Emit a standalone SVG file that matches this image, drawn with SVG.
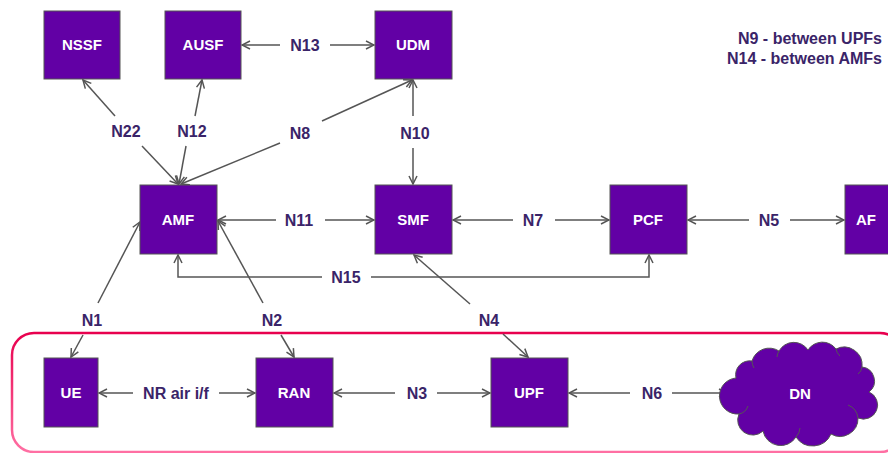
<svg xmlns="http://www.w3.org/2000/svg" width="888" height="453" viewBox="0 0 888 453">
  <defs>
    <marker id="arrow" viewBox="0 0 10 10" refX="9" refY="5" markerWidth="10" markerHeight="10" markerUnits="userSpaceOnUse" orient="auto">
      <path d="M1,1 L9,5 L1,9" fill="none" stroke="#555555" stroke-width="1.5"/>
    </marker>
    <linearGradient id="zoneStroke" x1="0" y1="0" x2="0" y2="1">
      <stop offset="0" stop-color="#e8004e"/>
      <stop offset="1" stop-color="#ff6fa3"/>
    </linearGradient>
  </defs>
  <style>
    .box { fill: #6200a5; stroke: #555555; stroke-width: 1; }
    .name { font-family: "Liberation Sans", Arial, sans-serif; font-weight: bold; font-size: 15px; fill: #ffffff; text-anchor: middle; }
    .lbl { font-family: "Liberation Sans", Arial, sans-serif; font-weight: bold; font-size: 16px; fill: #3a2468; text-anchor: middle; }
    .legend { font-family: "Liberation Sans", Arial, sans-serif; font-weight: bold; font-size: 16px; fill: #3a2468; text-anchor: end; }
    .ln { fill: none; stroke: #555555; stroke-width: 1.5; }
    .arr { marker-end: url(#arrow); }
  </style>

  <rect width="888" height="453" fill="#ffffff"/>

  <!-- access / user-plane zone -->
  <rect id="zone" x="12" y="333" width="890" height="119" rx="22" ry="22" fill="none" stroke="url(#zoneStroke)" stroke-width="2.5"/>

  <!-- legend -->
  <g id="legend">
    <text class="legend" x="882" y="44">N9 - between UPFs</text>
    <text class="legend" x="882" y="64">N14 - between AMFs</text>
  </g>

  <!-- connectors -->
  <g id="connectors">
    <!-- N13 AUSF-UDM -->
    <line class="ln arr" x1="280" y1="45" x2="242" y2="45"/>
    <line class="ln arr" x1="330" y1="45" x2="374" y2="45"/>
    <text class="lbl" x="305" y="51">N13</text>

    <!-- N22 AMF-NSSF -->
    <line class="ln arr" x1="115" y1="116" x2="83" y2="80"/>
    <line class="ln arr" x1="142" y1="146" x2="178" y2="184"/>
    <text class="lbl" x="126" y="137">N22</text>

    <!-- N12 AMF-AUSF -->
    <line class="ln arr" x1="195" y1="116" x2="202" y2="80"/>
    <line class="ln arr" x1="186" y1="146" x2="179" y2="184"/>
    <text class="lbl" x="192" y="137">N12</text>

    <!-- N8 AMF-UDM -->
    <line class="ln arr" x1="322" y1="121" x2="412" y2="80"/>
    <line class="ln arr" x1="280" y1="143" x2="181" y2="184"/>
    <text class="lbl" x="300" y="139">N8</text>

    <!-- N10 SMF-UDM -->
    <line class="ln arr" x1="413" y1="116" x2="413" y2="80"/>
    <line class="ln arr" x1="413" y1="148" x2="413" y2="184"/>
    <text class="lbl" x="415" y="139">N10</text>

    <!-- N11 AMF-SMF -->
    <line class="ln arr" x1="276" y1="220" x2="218" y2="220"/>
    <line class="ln arr" x1="325" y1="220" x2="374" y2="220"/>
    <text class="lbl" x="299" y="226">N11</text>

    <!-- N7 SMF-PCF -->
    <line class="ln arr" x1="513" y1="220" x2="453" y2="220"/>
    <line class="ln arr" x1="555" y1="220" x2="609" y2="220"/>
    <text class="lbl" x="533" y="226">N7</text>

    <!-- N5 PCF-AF -->
    <line class="ln arr" x1="749" y1="220" x2="688" y2="220"/>
    <line class="ln arr" x1="790" y1="220" x2="844" y2="220"/>
    <text class="lbl" x="769" y="226">N5</text>

    <!-- N15 AMF-PCF -->
    <polyline class="ln arr" points="322,277 178,277 178,255"/>
    <polyline class="ln arr" points="371,277 649,277 649,255"/>
    <text class="lbl" x="346" y="283">N15</text>

    <!-- N1 UE-AMF -->
    <line class="ln arr" x1="98" y1="303" x2="140" y2="222"/>
    <line class="ln arr" x1="83" y1="335" x2="71" y2="357"/>
    <text class="lbl" x="92" y="326">N1</text>

    <!-- N2 RAN-AMF -->
    <line class="ln arr" x1="263" y1="303" x2="218" y2="221"/>
    <line class="ln arr" x1="281" y1="335" x2="294" y2="357"/>
    <text class="lbl" x="272" y="326">N2</text>

    <!-- N4 SMF-UPF -->
    <line class="ln arr" x1="470" y1="304" x2="414" y2="255"/>
    <line class="ln arr" x1="503" y1="334" x2="528" y2="357"/>
    <text class="lbl" x="489" y="326">N4</text>

    <!-- NR air interface UE-RAN -->
    <line class="ln arr" x1="133" y1="393" x2="99" y2="393"/>
    <line class="ln arr" x1="219" y1="393" x2="255" y2="393"/>
    <text class="lbl" x="176" y="399">NR air i/f</text>

    <!-- N3 RAN-UPF -->
    <line class="ln arr" x1="395" y1="393" x2="334" y2="393"/>
    <line class="ln arr" x1="437" y1="393" x2="490" y2="393"/>
    <text class="lbl" x="417" y="399">N3</text>

    <!-- N6 UPF-DN -->
    <line class="ln arr" x1="630" y1="393" x2="569" y2="393"/>
    <line class="ln arr" x1="672" y1="393" x2="727" y2="393"/>
    <text class="lbl" x="652" y="399">N6</text>
  </g>

  <!-- network functions -->
  <g id="nssf"><rect class="box" x="44" y="11" width="76" height="68"/><text class="name" x="82" y="50">NSSF</text></g>
  <g id="ausf"><rect class="box" x="165" y="11" width="76" height="68"/><text class="name" x="203" y="50">AUSF</text></g>
  <g id="udm"><rect class="box" x="375" y="11" width="77" height="68"/><text class="name" x="413" y="50">UDM</text></g>
  <g id="amf"><rect class="box" x="140" y="185" width="77" height="69"/><text class="name" x="178" y="225">AMF</text></g>
  <g id="smf"><rect class="box" x="375" y="185" width="77" height="69"/><text class="name" x="413" y="225">SMF</text></g>
  <g id="pcf"><rect class="box" x="610" y="185" width="77" height="69"/><text class="name" x="648" y="225">PCF</text></g>
  <g id="af"><rect class="box" x="845" y="185" width="77" height="69"/><text class="name" x="866" y="225">AF</text></g>
  <g id="ue"><rect class="box" x="44" y="358" width="54" height="69"/><text class="name" x="71" y="398">UE</text></g>
  <g id="ran"><rect class="box" x="256" y="358" width="77" height="69"/><text class="name" x="294" y="398">RAN</text></g>
  <g id="upf"><rect class="box" x="491" y="358" width="77" height="69"/><text class="name" x="529" y="398">UPF</text></g>
  <g id="dn">
    <path class="box" d="M736,378 A14,14 0 0 1 752,361 A18,18 0 0 1 779,351 A17,17 0 0 1 808,350 A17,17 0 0 1 836,349 A18,18 0 0 1 862,367 A14,14 0 0 1 869,392 A14,14 0 0 1 858,418 A18,18 0 0 1 831,434 A20,20 0 0 1 796,437 A18,18 0 0 1 763,431 A15,15 0 0 1 739,414 A13,13 0 0 1 736,378 Z"/>
    <path d="M752,361 A14,14 0 0 0 754,368 M779,351 A12,12 0 0 0 777,357 M836,349 A12,12 0 0 0 840,356 M862,367 A10,10 0 0 1 858,374 M858,418 A16,16 0 0 0 848,405 M796,437 A14,14 0 0 0 800,428 M739,414 A12,12 0 0 0 748,406" fill="none" stroke="#555555" stroke-width="1"/>
    <text class="name" x="800" y="399">DN</text>
  </g>
</svg>
